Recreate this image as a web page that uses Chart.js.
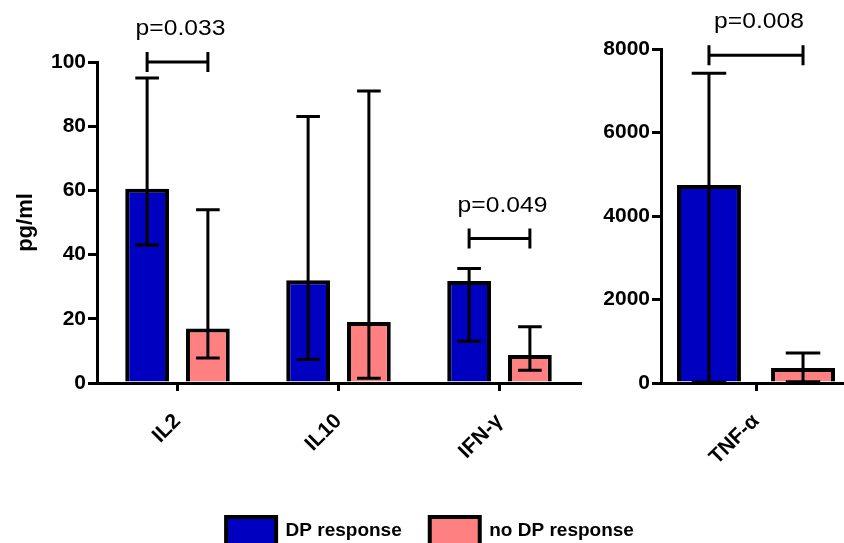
<!DOCTYPE html>
<html><head><meta charset="utf-8">
<script src="https://cdn.jsdelivr.net/npm/chart.js@4.4.1/dist/chart.umd.min.js"></script>
<style>
html,body{margin:0;padding:0;background:#fff;overflow:hidden;width:844px;height:543px;}
#wrap{position:relative;width:844px;height:543px;overflow:hidden;background:#fff;}
#c1{position:absolute;left:0;top:0;}
#c2{position:absolute;left:600px;top:0;}
</style></head><body>
<div id="wrap">
<canvas id="c1" width="860" height="555"></canvas>
<canvas id="c2" width="260" height="543"></canvas>
</div>
<script>
// ---- data ----
const categories = ['IL2', 'IL10', 'IFN-γ'];
const dpMean = [60.5, 32, 31.8];
const dpLow  = [43, 7.3, 13];
const dpHigh = [95, 83, 35.7];
const noMean = [17, 19, 8.7];
const noLow  = [7.8, 1.5, 4];
const noHigh = [54, 91, 17.5];
const pText  = ['p=0.033', null, 'p=0.049'];
const pLevel = [100, null, 45];
const leftTicks = [0, 20, 40, 60, 80, 100];

const tnfCategories = ['TNF-α'];
const tnfDpMean = [4740];
const tnfDpLow  = [20];
const tnfDpHigh = [7420];
const tnfNoMean = [360];
const tnfNoLow  = [30];
const tnfNoHigh = [720];
const tnfPText  = ['p=0.008'];
const tnfPLevel = [7850];
const rightTicks = [0, 2000, 4000, 6000, 8000];

const seriesNames = ['DP response', 'no DP response'];
const colors = ['#0000C0', '#FF8080'];

// ---- style ----
const FAM = '"Liberation Sans", Arial, Helvetica, sans-serif';
Chart.defaults.font.family = FAM;
Chart.defaults.color = '#000';
const boldFont = {family: FAM, size: 21, weight: 'bold'};

const errPlugin = {
  id: 'errbars',
  afterDatasetsDraw(chart, args, opts) {
    const ctx = chart.ctx, ys = chart.scales.y;
    ctx.save();
    ctx.strokeStyle = '#000';
    ctx.lineWidth = 3;
    chart.data.datasets.forEach((ds, di) => {
      const meta = chart.getDatasetMeta(di);
      meta.data.forEach((bar, i) => {
        const lo = ys.getPixelForValue(ds.errLow[i]);
        const hi = ys.getPixelForValue(ds.errHigh[i]);
        const cw = bar.width * 0.54 / 2;
        ctx.beginPath();
        ctx.moveTo(bar.x, lo); ctx.lineTo(bar.x, hi);
        ctx.moveTo(bar.x - cw, hi); ctx.lineTo(bar.x + cw, hi);
        ctx.moveTo(bar.x - cw, lo); ctx.lineTo(bar.x + cw, lo);
        ctx.stroke();
      });
    });
    // p-value brackets
    const texts = opts.texts || [], levels = opts.levels || [];
    const m0 = chart.getDatasetMeta(0), m1 = chart.getDatasetMeta(1);
    texts.forEach((t, i) => {
      if (!t) return;
      const x0 = m0.data[i].x, x1 = m1.data[i].x;
      const y = ys.getPixelForValue(levels[i]);
      ctx.beginPath();
      ctx.moveTo(x0, y); ctx.lineTo(x1, y);
      ctx.moveTo(x0, y - 10); ctx.lineTo(x0, y + 10);
      ctx.moveTo(x1, y - 10); ctx.lineTo(x1, y + 10);
      ctx.stroke();
      ctx.save();
      ctx.translate((x0 + x1) / 2 + 3, y - 33);
      ctx.scale(1.12, 1);
      ctx.fillStyle = '#000';
      ctx.font = '22px ' + FAM;
      ctx.textAlign = 'center';
      ctx.textBaseline = 'middle';
      ctx.fillText(t, 0, 0);
      ctx.restore();
    });
    ctx.restore();
  }
};

function barDs(i, data, lo, hi, cp, bp) {
  return {
    label: seriesNames[i], data: data, errLow: lo, errHigh: hi,
    backgroundColor: colors[i], borderColor: '#000', borderWidth: 4,
    borderSkipped: 'start', categoryPercentage: cp, barPercentage: bp
  };
}

function xScale(h) {
  return {
    grid: {display: true, offset: false, drawOnChartArea: false, drawTicks: true,
           tickLength: 8, tickWidth: 3, color: '#000', lineWidth: 3},
    border: {display: true, color: '#000', width: 3},
    ticks: {font: boldFont, color: '#000', maxRotation: 45, minRotation: 45, padding: 18},
    afterFit(s) { s.height = h; }
  };
}
function yScale(max, tickVals, w, title) {
  const sc = {
    min: 0, max: max,
    afterBuildTicks(s) { s.ticks = tickVals.map(v => ({value: v})); },
    ticks: {font: boldFont, color: '#000', padding: 2, callback: v => String(v)},
    grid: {display: true, drawOnChartArea: false, drawTicks: true, tickLength: 9,
           tickWidth: 3, color: '#000', lineWidth: 3},
    border: {display: true, color: '#000', width: 3},
    afterFit(s) { s.width = w; }
  };
  if (title) sc.title = {display: true, text: title, font: {family: FAM, size: 22, weight: 'bold'},
                         color: '#000', padding: {top: 13, bottom: 0}};
  return sc;
}

new Chart(document.getElementById('c1'), {
  type: 'bar',
  data: {
    labels: categories,
    datasets: [
      barDs(0, dpMean, dpLow, dpHigh, 0.755, 0.72),
      barDs(1, noMean, noLow, noHigh, 0.755, 0.72)
    ]
  },
  options: {
    responsive: false, devicePixelRatio: 1, animation: false,
    layout: {padding: {top: 62, left: 0, right: 0, bottom: 0}},
    plugins: {
      legend: {position: 'bottom',
        labels: {boxWidth: 50, boxHeight: 28, padding: 28, color: '#000',
                 font: {family: FAM, size: 19, weight: 'bold'}}},
      tooltip: {enabled: false},
      errbars: {texts: pText, levels: pLevel}
    },
    scales: {
      x: xScale(106),
      y: yScale(100, leftTicks, 97, 'pg/ml'),
      yr: {type: 'linear', axis: 'y', position: 'right', display: true,
           grid: {display: false}, border: {display: false}, ticks: {display: false},
           afterFit(s) { s.width = 280; }}
    }
  },
  plugins: [errPlugin]
});

new Chart(document.getElementById('c2'), {
  type: 'bar',
  data: {
    labels: tnfCategories,
    datasets: [
      barDs(0, tnfDpMean, tnfDpLow, tnfDpHigh, 0.99, 0.68),
      barDs(1, tnfNoMean, tnfNoLow, tnfNoHigh, 0.99, 0.68)
    ]
  },
  options: {
    responsive: false, devicePixelRatio: 1, animation: false,
    layout: {padding: {top: 49, left: 0, right: 9, bottom: 0}},
    plugins: {
      legend: {display: false},
      tooltip: {enabled: false},
      errbars: {texts: tnfPText, levels: tnfPLevel}
    },
    scales: {
      x: xScale(160),
      y: yScale(8000, rightTicks, 61, null)
    }
  },
  plugins: [errPlugin]
});
</script>
</body></html>
